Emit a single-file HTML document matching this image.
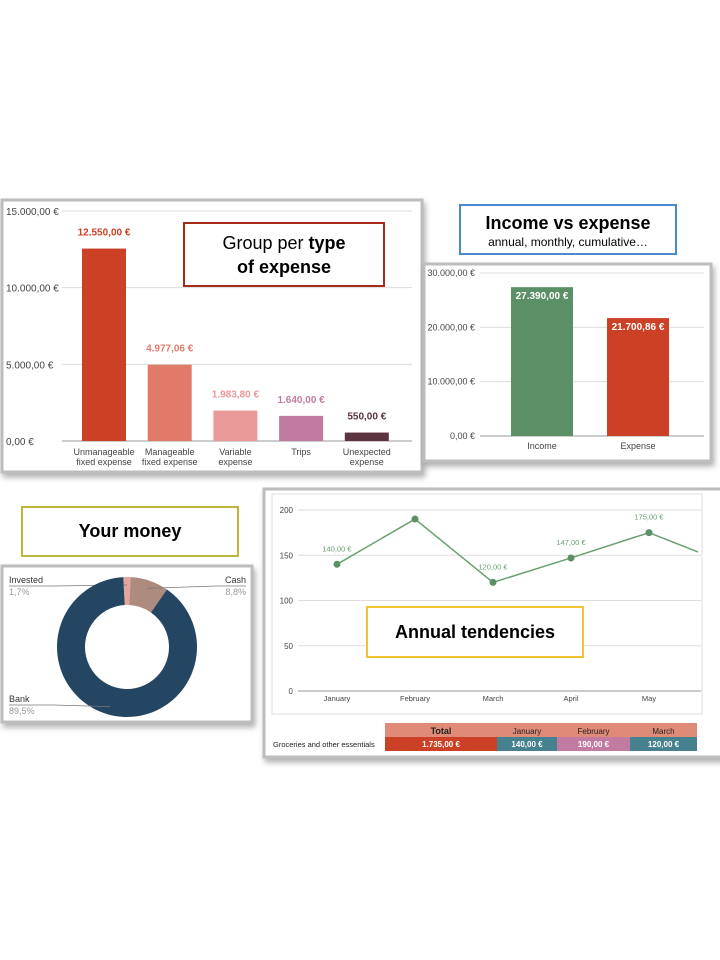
<!DOCTYPE html>
<html><head><meta charset="utf-8"><style>
body{margin:0;background:#fff;}
svg{display:block;font-family:"Liberation Sans",Arial,sans-serif;}
</style></head><body>
<svg width="720" height="960" viewBox="0 0 720 960">
<defs><filter id="sh" x="-5%" y="-5%" width="110%" height="115%"><feDropShadow dx="2" dy="4" stdDeviation="3" flood-color="#000" flood-opacity="0.3"/></filter></defs>

<!-- Panel 1 -->
<g>
<rect x="2" y="200" width="420" height="272" fill="#fff" stroke="#bdbdbd" stroke-width="3" filter="url(#sh)"/>
<g id="p1"></g>
<rect x="184" y="223" width="200" height="63" fill="#fff" stroke="#a52a1a" stroke-width="2"/>
<text x="284" y="249" text-anchor="middle" font-size="18" fill="#000">Group per <tspan font-weight="bold">type</tspan></text>
<text x="284" y="273" text-anchor="middle" font-size="18" font-weight="bold" fill="#000">of expense</text>
</g>

<!-- Panel 2 -->
<g>
<rect x="424" y="264" width="287" height="197" fill="#fff" stroke="#bdbdbd" stroke-width="3" filter="url(#sh)"/>
<g id="p2"></g>
<rect x="460" y="205" width="216" height="49" fill="#fff" stroke="#4a8bd0" stroke-width="2"/>
<text x="568" y="229" text-anchor="middle" font-size="18" font-weight="bold">Income vs expense</text>
<text x="568" y="246" text-anchor="middle" font-size="12">annual, monthly, cumulative…</text>
</g>

<!-- Panel 3 -->
<g>
<rect x="22" y="507" width="216" height="49" fill="#fff" stroke="#bdb83a" stroke-width="2"/>
<text x="130" y="537" text-anchor="middle" font-size="18" font-weight="bold">Your money</text>
<rect x="2" y="566" width="250" height="156" fill="#fff" stroke="#bdbdbd" stroke-width="3" filter="url(#sh)"/>
<g id="p3"></g>
</g>

<!-- Panel 4 -->
<g>
<rect x="264" y="489" width="460" height="268" fill="#fff" stroke="#bdbdbd" stroke-width="3" filter="url(#sh)"/>
<rect x="272" y="494" width="430" height="220" fill="#fff" stroke="#ddd" stroke-width="1"/>
<g id="p4"></g>
<rect x="367" y="607" width="216" height="50" fill="#fff" stroke="#f1c232" stroke-width="2"/>
<text x="475" y="638" text-anchor="middle" font-size="18" font-weight="bold">Annual tendencies</text>
<g id="tbl"></g>
</g>
</svg>
<script>
const NS='http://www.w3.org/2000/svg';
function mk(p,t,a,txt){const e=document.createElementNS(NS,t);for(const k in a)e.setAttribute(k,a[k]);if(txt!==undefined)e.textContent=txt;p.appendChild(e);return e;}

// ---- Chart 1 data
const expCats=[["Unmanageable","fixed expense"],["Manageable","fixed expense"],["Variable","expense"],["Trips"],["Unexpected","expense"]];
const expVals=[12550,4977.06,1983.8,1640,550];
const expLabels=["12.550,00 €","4.977,06 €","1.983,80 €","1.640,00 €","550,00 €"];
const expTicks=[0,5000,10000,15000];
const expTickLabels=["0,00 €","5.000,00 €","10.000,00 €","15.000,00 €"];
const expColors=["#cc4125","#e07b6a","#ea9999","#c27ba0","#5b3440"];

// ---- Chart 2 data
const ieCats=["Income","Expense"];
const ieVals=[27390,21700.86];
const ieLabels=["27.390,00 €","21.700,86 €"];
const ieTicks=[0,10000,20000,30000];
const ieTickLabels=["0,00 €","10.000,00 €","20.000,00 €","30.000,00 €"];

// ---- Chart 3 data
const moneyCats=["Invested","Cash","Bank"];
const moneyVals=[1.7,8.8,89.5];
const moneyLabels=["1,7%","8,8%","89,5%"];

// ---- Chart 4 data
const months=["January","February","March","April","May","June"];
const monthVals=[140,190,120,147,175,141];
const monthLabels=["140,00 €","","120,00 €","147,00 €","175,00 €",""];
const lineTicks=[0,50,100,150,200];
const tableHead=["Total","January","February","March"];
const tableVals=["1.735,00 €","140,00 €","190,00 €","120,00 €"];

// Chart 1
(function(){const g=document.getElementById('p1');
const y=v=>441-v/15000*230;const x=i=>104+i*65.7;
expTicks.forEach((t,i)=>{const l=mk(g,'line',{x1:62,x2:412,y1:y(t),y2:y(t),stroke:i?'#ddd':'#999','stroke-width':1});

const tx=mk(g,'text',{x:6,y:y(t)+4,'font-size':10,fill:'#444'},expTickLabels[i]);
});
expVals.forEach((v,i)=>{const r=mk(g,'rect',{x:x(i)-22,y:y(v),width:44,height:y(0)-y(v),fill:expColors[i]});

const t=mk(g,'text',{x:x(i),y:y(v)-13,'text-anchor':'middle','font-size':10,'font-weight':'bold',fill:expColors[i]},expLabels[i]);

expCats[i].forEach((s,j)=>{const c=mk(g,'text',{x:x(i),y:455+j*10,'text-anchor':'middle','font-size':9,fill:'#444'},s);
});});
})();

// Chart 2
(function(){const g=document.getElementById('p2');
const y=v=>436-v/30000*163;const x=i=>542+i*96;const cols=["#5b8f66","#cc4125"];
ieTicks.forEach((t,i)=>{const l=mk(g,'line',{x1:480,x2:704,y1:y(t),y2:y(t),stroke:i?'#ddd':'#999','stroke-width':1});

const tx=mk(g,'text',{x:475,y:y(t)+3,'text-anchor':'end','font-size':9,fill:'#444'},ieTickLabels[i]);
});
ieVals.forEach((v,i)=>{const r=mk(g,'rect',{x:x(i)-31,y:y(v),width:62,height:y(0)-y(v),fill:cols[i]});

const t=mk(g,'text',{x:x(i),y:y(v)+12,'text-anchor':'middle','font-size':10,'font-weight':'bold',fill:'#fff'},ieLabels[i]);

const c=mk(g,'text',{x:x(i),y:449,'text-anchor':'middle','font-size':9,fill:'#444'},ieCats[i]);
});
})();

// Chart 3 donut
(function(){const g=document.getElementById('p3');const cx=127,cy=647,R=70,r=42;
const cols=["#e6a49a","#ad8b7f","#254663"];const tot=moneyVals.reduce((a,b)=>a+b,0);
let a0=-Math.PI/2-moneyVals[0]/tot*2*Math.PI*0.5;
const pos=[[9,583,'start'],[246,583,'end'],[9,702,'start']];
moneyVals.forEach((v,i)=>{const a1=a0+v/tot*2*Math.PI;const lg=(a1-a0)>Math.PI?1:0;
const p=(ang,rad)=>[cx+rad*Math.cos(ang),cy+rad*Math.sin(ang)];
const [x0,y0]=p(a0,R),[x1,y1]=p(a1,R),[x2,y2]=p(a1,r),[x3,y3]=p(a0,r);
const s=mk(g,'path',{d:`M${x0},${y0}A${R},${R} 0 ${lg} 1 ${x1},${y1}L${x2},${y2}A${r},${r} 0 ${lg} 0 ${x3},${y3}Z`,fill:cols[i]});

const am=(a0+a1)/2;const [lx,ly]=p(am,R-8);const P=pos[i];
const ln=mk(g,'polyline',{points:`${P[0]},${P[1]+3} ${P[2]=='end'?P[0]-30:P[0]+45},${P[1]+3} ${lx},${ly}`,fill:'none',stroke:'#777','stroke-width':0.7});

const t=mk(g,'text',{x:P[0],y:P[1],'text-anchor':P[2],'font-size':9,fill:'#333'},moneyCats[i]);

const t2=mk(g,'text',{x:P[0],y:P[1]+12,'text-anchor':P[2],'font-size':9,fill:'#999'},moneyLabels[i]);

a0=a1;});
})();

// Chart 4 line
(function(){const g=document.getElementById('p4');
const y=v=>691-v/200*181;const x=i=>337+i*78;
lineTicks.forEach((t,i)=>{const l=mk(g,'line',{x1:298,x2:701,y1:y(t),y2:y(t),stroke:i?'#ddd':'#999','stroke-width':1});

const tx=mk(g,'text',{x:293,y:y(t)+3,'text-anchor':'end','font-size':8,fill:'#444'},t);
});
const cp=mk(g,'clipPath',{id:'lc'});mk(cp,'rect',{x:272,y:494,width:426,height:220});
const pl=mk(g,'polyline',{points:monthVals.map((v,i)=>x(i)+','+y(v)).join(' '),fill:'none',stroke:'#6aa070','stroke-width':1.5,'clip-path':'url(#lc)'});

monthVals.forEach((v,i)=>{if(x(i)>698)return;
const c=mk(g,'circle',{cx:x(i),cy:y(v),r:3.5,fill:'#5b8f66'});

if(monthLabels[i]){const t=mk(g,'text',{x:x(i),y:y(v)-13,'text-anchor':'middle','font-size':7.5,fill:'#6aa070'},monthLabels[i]);
}
const m=mk(g,'text',{x:x(i),y:701,'text-anchor':'middle','font-size':7.5,fill:'#444'},months[i]);
});
// table
const t=document.getElementById('tbl');const cx=[385,497,557,630,697];
const rc=["#cc4125","#45818e","#c27ba0","#45818e"];
tableHead.forEach((h,i)=>{const w=cx[i+1]-cx[i];
const r=mk(t,'rect',{x:cx[i],y:723,width:w,height:14,fill:'#e08a78'});
const tx=mk(t,'text',{x:cx[i]+w/2,y:734,'text-anchor':'middle','font-size':i?8:9,'font-weight':i?'normal':'bold',fill:'#222'},h);

const r2=mk(t,'rect',{x:cx[i],y:737,width:w,height:14,fill:rc[i]});
const tx2=mk(t,'text',{x:cx[i]+w/2,y:747,'text-anchor':'middle','font-size':8,'font-weight':'bold',fill:'#fff'},tableVals[i]);
});
const lb=mk(t,'text',{x:273,y:747,'font-size':7.5,fill:'#222'},"Groceries and other essentials");

})();
</script>
</body></html>
